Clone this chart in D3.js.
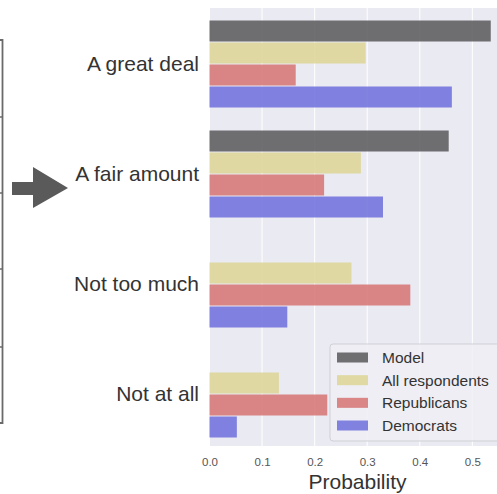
<!DOCTYPE html>
<html>
<head>
<meta charset="utf-8">
<script src="https://cdn.jsdelivr.net/npm/d3@7"></script>
<style>
  html, body { margin: 0; padding: 0; background: #ffffff; }
  svg { display: block; font-family: "Liberation Sans", Arial, Helvetica, sans-serif; }
</style>
</head>
<body>
<svg id="chart" width="497" height="494"></svg>
<script>
// Response categories (top to bottom)
const categories = ["A great deal", "A fair amount", "Not too much", "Not at all"];

// Series names, in the order the bars are stacked within each category
const seriesNames = ["Model", "All respondents", "Republicans", "Democrats"];

// Probability for each category, per series
const modelValues       = [0.535, 0.455, 0.0, 0.0];
const allRespValues     = [0.297, 0.288, 0.270, 0.132];
const republicanValues  = [0.164, 0.218, 0.382, 0.224];
const democratValues    = [0.461, 0.330, 0.148, 0.052];

const xTicks = [0.0, 0.1, 0.2, 0.3, 0.4, 0.5];
const xLabel = "Probability";

const seriesValues = [modelValues, allRespValues, republicanValues, democratValues];
const seriesColors = ["#606063", "#ded69a", "#d77a7a", "#7474de"];

const svg = d3.select("#chart");

// Plot frame
const plot = { left: 209, top: 8, right: 506, bottom: 446 };

const x = d3.scaleLinear().domain([0, 0.564]).range([209.5, 506]);
const y = d3.scaleBand().domain(categories).range([9, 449]).paddingInner(0.2).paddingOuter(0.1);
const ySub = d3.scaleBand().domain(seriesNames).range([0, y.bandwidth()]);

// Left-hand panel: edge of a bordered box with row dividers, and an arrow
const leftPanel = svg.append("g");
leftPanel.append("path")
  .attr("d", "M0,40 H2.5 V423 H0")
  .attr("fill", "none").attr("stroke", "#6a6a6a").attr("stroke-width", 1.8);
[117, 193, 269, 347].forEach(yy => {
  leftPanel.append("line")
    .attr("x1", 0).attr("x2", 3).attr("y1", yy).attr("y2", yy)
    .attr("stroke", "#6a6a6a").attr("stroke-width", 1.5);
});
leftPanel.append("path")
  .attr("d", "M12,182 H33 V167 L68,188 L33,208 V195 H12 Z")
  .attr("fill", "#5a5a5a");

// Axes background
svg.append("rect")
  .attr("x", plot.left).attr("y", plot.top)
  .attr("width", plot.right - plot.left).attr("height", plot.bottom - plot.top)
  .attr("fill", "#eaeaf2");

// Vertical white gridlines
svg.append("g").selectAll("line")
  .data(xTicks)
  .join("line")
  .attr("x1", d => x(d)).attr("x2", d => x(d))
  .attr("y1", plot.top).attr("y2", plot.bottom)
  .attr("stroke", "#ffffff").attr("stroke-width", 1);

// Bars
const rows = [];
categories.forEach((c, ci) => {
  seriesNames.forEach((s, si) => {
    rows.push({ category: c, series: s, value: seriesValues[si][ci], color: seriesColors[si] });
  });
});

svg.append("g").selectAll("rect")
  .data(rows.filter(d => d.value > 0))
  .join("rect")
  .attr("x", x(0))
  .attr("y", d => y(d.category) + ySub(d.series) + 0.5)
  .attr("width", d => x(d.value) - x(0))
  .attr("height", ySub.bandwidth() - 1)
  .attr("fill", d => d.color)
  .attr("fill-opacity", 0.9);

// Category labels
svg.append("g").selectAll("text")
  .data(categories)
  .join("text")
  .attr("x", 199)
  .attr("y", d => y(d) + y.bandwidth() / 2 + 7)
  .attr("text-anchor", "end")
  .attr("font-size", 21)
  .attr("fill", "#333333")
  .text(d => d);

// X axis tick labels
const xAxis = d3.axisBottom(x).tickValues(xTicks).tickFormat(d3.format(".1f")).tickSize(0).tickPadding(0);
const xg = svg.append("g").attr("transform", `translate(0,${plot.bottom})`).call(xAxis);
xg.select(".domain").remove();
xg.selectAll("text")
  .attr("y", 20)
  .attr("dy", 0)
  .attr("font-size", 11.5)
  .attr("font-family", "Liberation Sans, Arial, sans-serif")
  .attr("fill", "#555555");

// X axis title
svg.append("text")
  .attr("x", (plot.left + plot.right) / 2)
  .attr("y", 489)
  .attr("text-anchor", "middle")
  .attr("font-size", 21)
  .attr("fill", "#333333")
  .text(xLabel);

// Legend
const legend = svg.append("g");
legend.append("rect")
  .attr("x", 330).attr("y", 344)
  .attr("width", 180).attr("height", 97)
  .attr("rx", 3)
  .attr("fill", "#eeeef4").attr("fill-opacity", 0.85)
  .attr("stroke", "#cfcfd6").attr("stroke-width", 1);

const legendRowY = d3.scalePoint().domain(seriesNames).range([357.5, 425.5]);
seriesNames.forEach((s, i) => {
  const cy = legendRowY(s);
  legend.append("rect")
    .attr("x", 337).attr("y", cy - 5)
    .attr("width", 31).attr("height", 10)
    .attr("fill", seriesColors[i]).attr("fill-opacity", 0.9);
  legend.append("text")
    .attr("x", 382).attr("y", cy + 5.5)
    .attr("font-size", 15.5)
    .attr("fill", "#333333")
    .text(s);
});
</script>
</body>
</html>
